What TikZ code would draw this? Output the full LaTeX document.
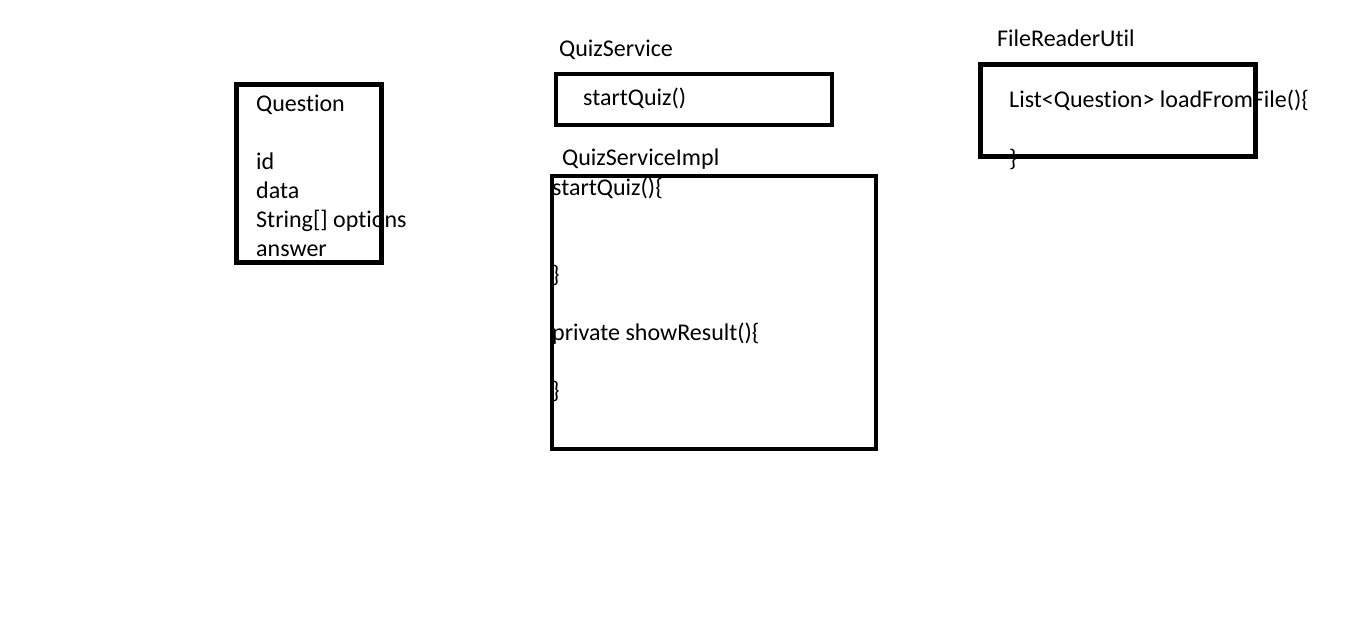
\documentclass[tikz,border=0pt]{standalone}
\usepackage{fontspec}
\setmainfont{Carlito}[Ligatures={NoCommon}]
\begin{document}
\begin{tikzpicture}[x=1pt,y=-1pt,
  box/.style={draw=black,line width=4.5pt},
  txt/.style={anchor=base west,inner sep=0pt,font=\fontsize{24}{29}\selectfont}]
\useasboundingbox[fill=white] (0,0) rectangle (1360,623);
% boxes
\draw[box] (236.5,84.5) rectangle (381.5,262.5);
\draw[box] (556,74) rectangle (832,125);
\draw[box] (552,176) rectangle (876,449);
\draw[box] (980.5,64.5) rectangle (1255.5,156.5);
% Question
\node[txt] (qt) at (256,112) {Question};
\node[txt] (qid) at (256,169) {id};
\node[txt] (qdata) at (256,198) {data};
\node[txt] (qopt) at (256,227) {String[] options};
\node[txt] (qans) at (256,256) {answer};
% QuizService
\node[txt] (qs) at (559,57) {QuizService};
\node[txt] (qsm) at (583,106) {startQuiz()};
% QuizServiceImpl
\node[txt] (qsi) at (562,165) {QuizServiceImpl};
\node[txt] (i1) at (552,195) {startQuiz()\{};
\node[txt] (i2) at (552,282) {\}};
\node[txt] (i3) at (552,340) {private showResult()\{};
\node[txt] (i4) at (552,398) {\}};
% FileReaderUtil
\node[txt] (fr) at (997,47) {FileReaderUtil};
\node[txt] (f1) at (1009,108) {List<Question> loadFromFile()\{};
\node[txt] (f2) at (1009,166) {\}};
\end{tikzpicture}
\end{document}
